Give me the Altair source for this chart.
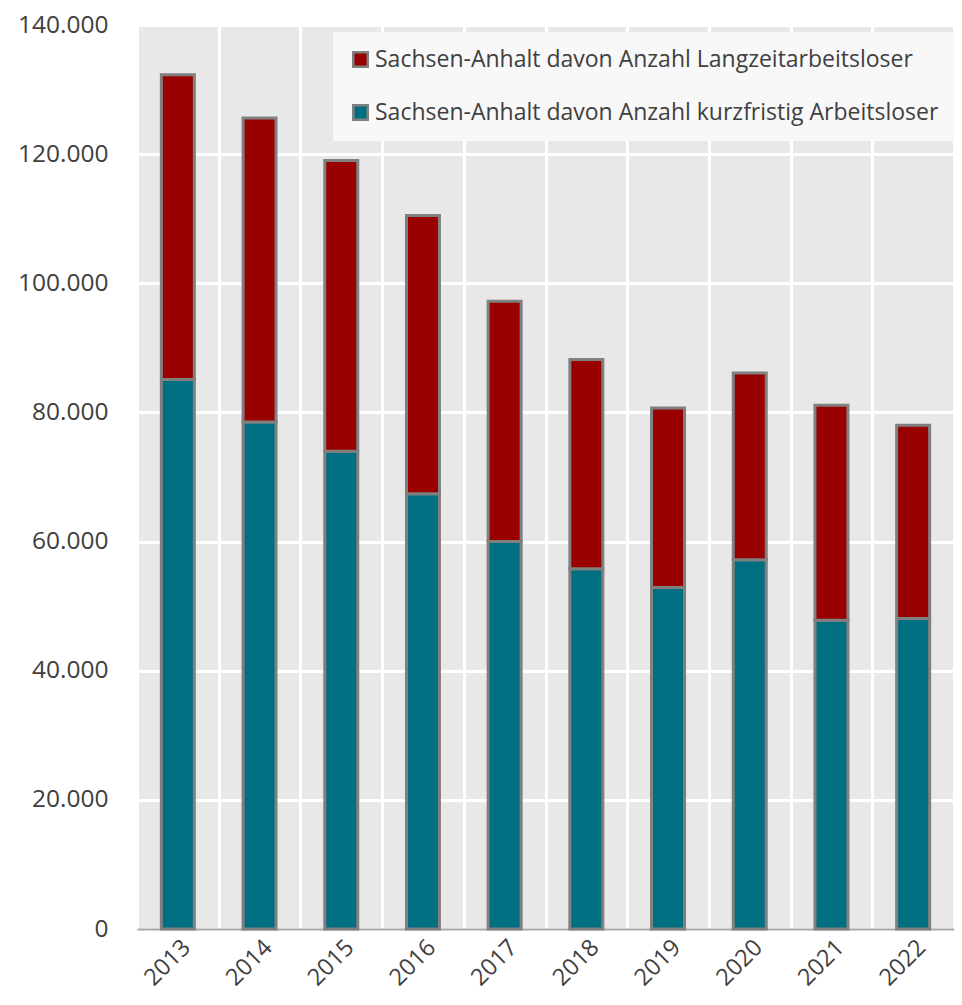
import altair as alt
import pandas as pd

years = ["2013", "2014", "2015", "2016", "2017", "2018", "2019", "2020", "2021", "2022"]
kurz = [85100, 78500, 74000, 67400, 60000, 55800, 52900, 57200, 47800, 48100]
total = [132300, 125600, 119000, 110500, 97200, 88200, 80700, 86100, 81100, 78000]
lang = [t - k for t, k in zip(total, kurz)]

s_lang = "Sachsen-Anhalt davon Anzahl Langzeitarbeitsloser"
s_kurz = "Sachsen-Anhalt davon Anzahl kurzfristig Arbeitsloser"

rows = []
for y, k, l in zip(years, kurz, lang):
    rows.append({"Jahr": y, "Serie": s_kurz, "Wert": k, "ord": 0})
    rows.append({"Jahr": y, "Serie": s_lang, "Wert": l, "ord": 1})
df = pd.DataFrame(rows)

FONT = "Open Sans"

chart = alt.Chart(df).mark_bar(
    stroke="#808080", strokeWidth=3, size=33
).encode(
    x=alt.X("Jahr:N", sort=years, title=None,
            scale=alt.Scale(paddingInner=0, paddingOuter=0),
            axis=alt.Axis(labelAngle=-45, labelFontSize=23.5, labelFont=FONT,
                          labelColor="#404040", ticks=False, grid=True,
                          tickBand="extent", gridColor="white", gridWidth=3,
                          domainColor="#a6a6a6", domainWidth=2, labelPadding=6)),
    y=alt.Y("Wert:Q", stack="zero", title=None,
            scale=alt.Scale(domain=[0, 140000], nice=False),
            axis=alt.Axis(values=[0, 20000, 40000, 60000, 80000, 100000, 120000, 140000],
                          labelExpr="replace(format(datum.value, ','), ',', '.')",
                          labelFontSize=24.5, labelFont=FONT, labelColor="#404040",
                          ticks=False, domain=False, gridColor="white", gridWidth=3,
                          labelPadding=29)),
    color=alt.Color("Serie:N",
                    scale=alt.Scale(domain=[s_lang, s_kurz], range=["#990000", "#006f82"]),
                    legend=alt.Legend(title=None, orient="none", legendX=196, legendY=7,
                                      labelFontSize=23, labelFont=FONT, labelColor="#404040",
                                      symbolType="square", symbolSize=210,
                                      symbolStrokeColor="#808080", symbolStrokeWidth=2.5,
                                      symbolOpacity=1,
                                      fillColor="#f8f8f8", padding=16, rowPadding=28,
                                      labelOffset=3, labelLimit=800)),
    order=alt.Order("ord:Q", sort="ascending"),
).properties(
    width=817, height=904, background="white",
    autosize=alt.AutoSizeParams(type="none"),
    padding={"left": 129, "top": 17, "right": 0, "bottom": 68}
).configure_view(
    fill="#e8e8e8", stroke=None
)

chart.save("out.html", embed_options={"renderer": "svg", "actions": False})
